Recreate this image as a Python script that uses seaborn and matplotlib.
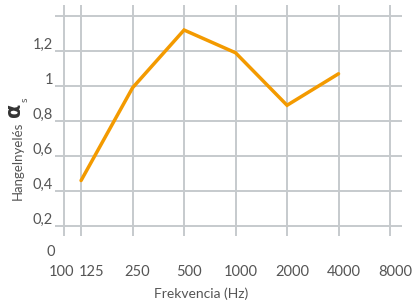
import numpy as np
import pandas as pd
import seaborn as sns
import matplotlib.pyplot as plt
from matplotlib.transforms import ScaledTranslation

# Data
freqs = [125, 250, 500, 1000, 2000, 4000]
alpha_s = [0.46, 0.99, 1.32, 1.19, 0.89, 1.07]

xtick_vals = [100, 125, 250, 500, 1000, 2000, 4000, 8000]
xtick_labels = ["100", "125", "250", "500", "1000", "2000", "4000", "8000"]
ytick_vals = [0.2, 0.4, 0.6, 0.8, 1.0, 1.2, 1.4]
ytick_labels = ["0,2", "0,4", "0,6", "0,8", "1", "1,2", ""]

df = pd.DataFrame({"freq": freqs, "alpha": alpha_s})

sns.set_style("white")
plt.rcParams["font.family"] = ["Lato", "DejaVu Sans"]

text_col = "#555555"
grid_col = "#C6CACD"
line_col = "#F39A00"

W, H = 414, 302
fig = plt.figure(figsize=(W / 100, H / 100), dpi=100)
ax = fig.add_axes([55 / W, (H - 236) / H, 347 / W, 231 / H])

sns.lineplot(data=df, x="freq", y="alpha", color=line_col, linewidth=2.5, ax=ax,
             solid_joinstyle="miter", zorder=3)

ax.set_xscale("log")
ax.set_xlim(88, 9400)
ax.set_ylim(0.143, 1.463)
ax.set_xticks(xtick_vals)
ax.set_xticklabels(xtick_labels)
ax.minorticks_off()
ax.set_yticks(ytick_vals)
ax.set_yticklabels(ytick_labels)

ax.grid(True, color=grid_col, linewidth=1.4)
ax.set_axisbelow(True)
for s in ax.spines.values():
    s.set_visible(False)

ax.tick_params(axis="both", length=0, colors=text_col, labelsize=10.5)
ax.tick_params(axis="x", pad=21)
ax.tick_params(axis="y", pad=1.5)

# nudge tick labels like the reference
for lab in ax.get_yticklabels():
    lab.set_transform(lab.get_transform() + ScaledTranslation(0, 0.08, fig.dpi_scale_trans))
x_shift = {"100": -0.03, "125": 0.10}
for lab in ax.get_xticklabels():
    dx = x_shift.get(lab.get_text(), 0.05)
    lab.set_transform(lab.get_transform() + ScaledTranslation(dx, 0, fig.dpi_scale_trans))

fig.text(55 / W, 1 - 252 / H, "0", ha="right", va="center", color=text_col, fontsize=10.5)

ax.set_xlabel("")
ax.set_ylabel("")
fig.text(201 / W, 1 - 294 / H, "Frekvencia (Hz)", ha="center", va="center",
         color=text_col, fontsize=10)

fig.text(18 / W, 1 - 161 / H, "Hangelnyelés", rotation=90, ha="center", va="center",
         color=text_col, fontsize=9.5)
fig.text(14 / W, 1 - 110 / H, "α", rotation=90, ha="center", va="center",
         color="#333333", fontsize=15, fontweight="bold", family="DejaVu Sans")
fig.text(25 / W, 1 - 100 / H, "s", rotation=90, ha="center", va="center",
         color=text_col, fontsize=7.5)

fig.savefig("out.png", dpi=100)
